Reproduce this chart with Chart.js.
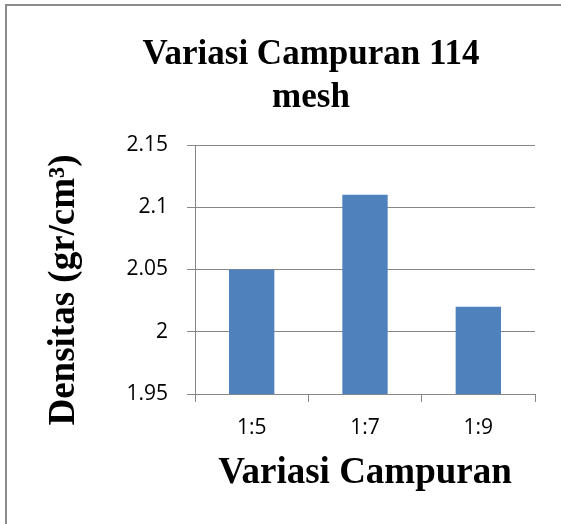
<!DOCTYPE html>
<html>
<head>
<meta charset="utf-8">
<script src="https://cdn.jsdelivr.net/npm/chart.js@4/dist/chart.umd.min.js"></script>
<style>
  html, body { margin: 0; padding: 0; background: #ffffff; overflow: hidden; width: 561px; height: 524px; }
  canvas { display: block; }
</style>
</head>
<body>
<canvas id="c" width="561" height="524"></canvas>
<script>
const categories = ['1:5', '1:7', '1:9'];
const densitas = [2.05, 2.11, 2.02];
const yTickLabels = ['1.95', '2', '2.05', '2.1', '2.15'];
const chartTitle = ['Variasi Campuran 114', 'mesh'];
const xTitle = 'Variasi Campuran';
const yTitle = 'Densitas (gr/cm\u00B3)';

const serifBold = { family: "'Liberation Serif', 'Times New Roman', serif", weight: 'bold' };
const tickFont = { family: "'Open Sans', 'Liberation Sans', sans-serif", size: 21, lineHeight: 1.2 };
const gridColor = '#868686';

const framePlugin = {
  id: 'frame',
  beforeDraw(chart) {
    const ctx = chart.ctx;
    ctx.save();
    ctx.fillStyle = '#ffffff';
    ctx.fillRect(0, 0, chart.width, chart.height);
    ctx.fillStyle = '#8c8c8c';
    ctx.fillRect(5, 4, chart.width - 5, 2);
    ctx.fillRect(5, 4, 2, chart.height - 4);
    ctx.restore();
  }
};

const yTitlePlugin = {
  id: 'yTitle',
  afterDraw(chart) {
    const ctx = chart.ctx;
    ctx.save();
    ctx.translate(64, 290);
    ctx.rotate(-Math.PI / 2);
    ctx.font = "bold 37px 'Liberation Serif', 'Times New Roman', serif";
    ctx.fillStyle = '#000000';
    ctx.textAlign = 'center';
    ctx.textBaseline = 'middle';
    ctx.fillText(yTitle, 0, 0);
    ctx.restore();
  }
};

new Chart(document.getElementById('c'), {
  type: 'bar',
  data: {
    labels: categories,
    datasets: [{
      data: densitas,
      backgroundColor: '#4F81BD',
      borderWidth: 0,
      categoryPercentage: 1.0,
      barPercentage: 0.4
    }]
  },
  options: {
    responsive: false,
    animation: false,
    devicePixelRatio: 1,
    layout: { padding: { left: 87, right: 26, top: 0, bottom: 0 } },
    plugins: {
      legend: { display: false },
      tooltip: { enabled: false },
      title: {
        display: true,
        text: chartTitle,
        color: '#000000',
        font: Object.assign({ size: 35, lineHeight: 1.23 }, serifBold),
        padding: { top: 33.5, bottom: 25.4 }
      }
    },
    scales: {
      x: {
        grid: { display: true, drawOnChartArea: false, drawTicks: true, tickLength: 8, offset: true, color: gridColor, lineWidth: 1 },
        border: { display: true, color: gridColor, width: 1 },
        ticks: { color: '#000000', font: tickFont, padding: 13.4, maxRotation: 0 },
        title: {
          display: true,
          text: xTitle,
          color: '#000000',
          font: Object.assign({ size: 37, lineHeight: 1.2 }, serifBold),
          padding: { top: 0, bottom: 28.8 }
        },
        afterFit(scale) { scale.height = 130; }
      },
      y: {
        min: 1.95,
        max: 2.15,
        grid: { color: gridColor, lineWidth: 1, tickLength: 8, drawTicks: true },
        border: { display: true, color: gridColor, width: 1 },
        ticks: {
          stepSize: 0.05,
          color: '#000000',
          font: tickFont,
          padding: 19,
          callback: function (value, index) { return yTickLabels[index]; }
        },
        afterFit(scale) { scale.width = 108; }
      }
    }
  },
  plugins: [framePlugin, yTitlePlugin]
});
</script>
</body>
</html>
